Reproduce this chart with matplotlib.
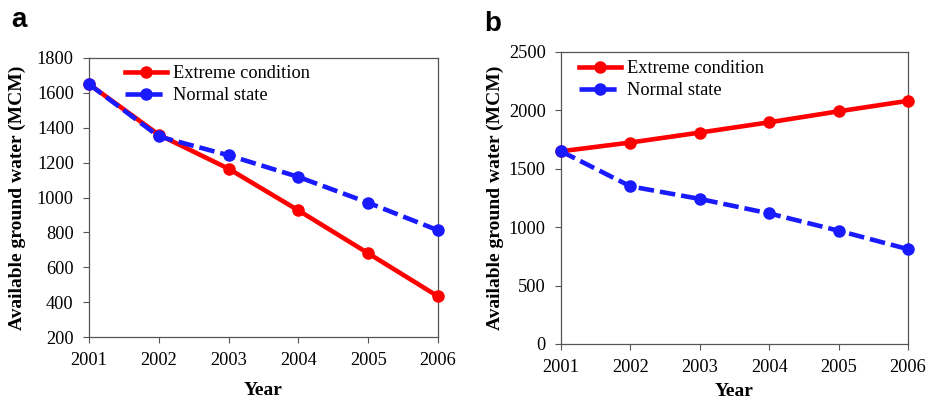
import matplotlib.pyplot as plt

years = [2001, 2002, 2003, 2004, 2005, 2006]
# panel a
extreme_a = [1650, 1360, 1165, 926, 680, 433]
normal_a = [1650, 1350, 1242, 1118, 970, 812]
# panel b
extreme_b = [1650, 1725, 1810, 1898, 1992, 2082]
normal_b = [1650, 1350, 1242, 1118, 970, 812]

plt.rcParams['font.family'] = 'Liberation Serif'

fig = plt.figure(figsize=(9.34, 4.01), dpi=100)
W, H = 934, 401


def box(l, t, r, b):
    return [l / W, 1 - b / H, (r - l) / W, (b - t) / H]


def panel(ax, ext, nor, ylim, yticks, ylab_x, xlab_y, leg_xy):
    ax.plot(years, ext, color='#ff0000', lw=3.3, marker='o', ms=8,
            label='Extreme condition', clip_on=False, zorder=3)
    ax.plot(years, nor, color='#1a1aff', lw=3.3, marker='o', ms=8,
            dashes=(3.4, 1.3), label='Normal state', clip_on=False, zorder=4)
    ax.set_xlim(2001, 2006)
    ax.set_ylim(*ylim)
    ax.set_yticks(yticks)
    ax.set_xticks(years)
    ax.tick_params(direction='out', length=4, width=0.8, labelsize=13.2,
                   color='#555555', pad=7)
    for s in ax.spines.values():
        s.set_color('#555555')
        s.set_linewidth(0.9)
    ax.set_xlabel('Year', fontsize=14, fontweight='bold', va='center')
    ax.xaxis.set_label_coords(0.5, xlab_y)
    ax.set_ylabel('Available ground water (MCM)', fontsize=14,
                  fontweight='bold', va='center')
    ax.yaxis.set_label_coords(ylab_x, 0.5)
    ax.legend(loc='upper left', frameon=False, fontsize=13.2, numpoints=1,
              handlelength=2.3, handletextpad=0.3, labelspacing=0.3,
              borderaxespad=0, borderpad=0, bbox_to_anchor=leg_xy)


ax1 = fig.add_axes(box(89, 58, 438, 337))
panel(ax1, extreme_a, normal_a, (200, 1800), range(200, 1801, 200),
      -0.205, -0.19, ((125 - 89) / 349, 1 - (65 - 58) / 279))

ax2 = fig.add_axes(box(561, 52, 908, 344))
panel(ax2, extreme_b, normal_b, (0, 2500), range(0, 2501, 500),
      -0.19, -0.162, ((579 - 561) / 347, 1 - (60 - 52) / 292))

fig.text(19 / W, 1 - 20 / H, 'a', fontsize=20, fontweight='bold',
         family='Liberation Sans', ha='center', va='center')
fig.text(493 / W, 1 - 24 / H, 'b', fontsize=20, fontweight='bold',
         family='Liberation Sans', ha='center', va='center')

fig.savefig('out.png', dpi=100)
